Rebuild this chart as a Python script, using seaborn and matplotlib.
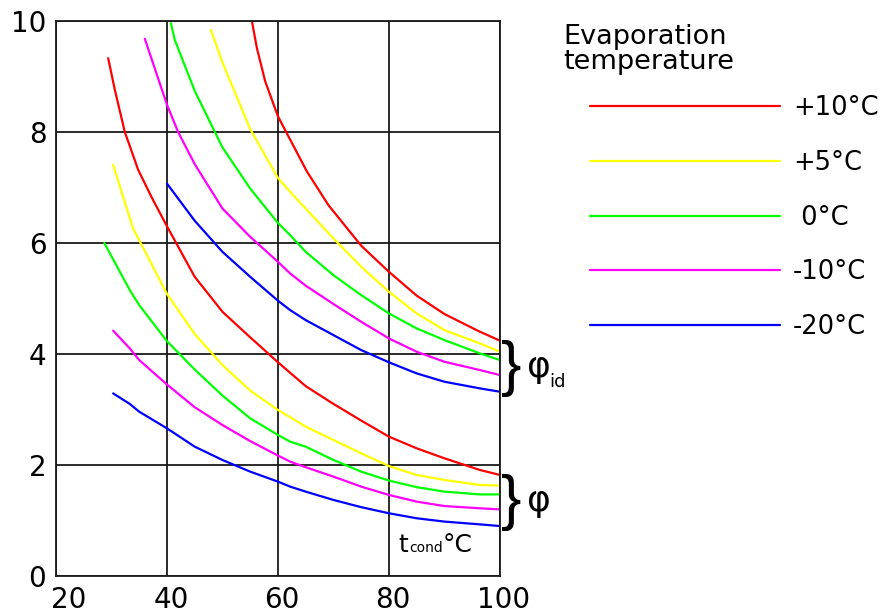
import pandas as pd
import numpy as np
import seaborn as sns
import matplotlib.pyplot as plt
from matplotlib.transforms import ScaledTranslation

# evaporation temperatures and their colours
evap_labels = ['+10°C', '+5°C', ' 0°C', '-10°C', '-20°C']
evap_colors = ['#ff0000', '#ffff00', '#00ff00', '#ff00ff', '#0000ff']

# ideal coefficient (phi_id) vs condensing temperature
t_id_p10 = [55.3, 56.2, 57.7, 60, 65.2, 69.1, 75, 80, 85, 90, 96.4, 100]
phi_id_p10 = [10.0, 9.51, 8.91, 8.28, 7.29, 6.68, 5.95, 5.48, 5.05, 4.72, 4.40, 4.24]
t_id_p5 = [47.9, 50, 55, 60, 62.2, 65, 70, 75, 80, 85, 90, 96.4, 100]
phi_id_p5 = [9.84, 9.25, 8.05, 7.17, 6.92, 6.62, 6.08, 5.57, 5.12, 4.73, 4.43, 4.19, 4.04]
t_id_0 = [40.7, 41.4, 45, 50, 55, 60, 62.2, 65, 70, 75, 80, 85, 90, 96.4, 100]
phi_id_0 = [9.96, 9.66, 8.74, 7.72, 6.98, 6.36, 6.14, 5.84, 5.42, 5.06, 4.73, 4.46, 4.25, 4.01, 3.89]
t_id_m10 = [36.0, 40, 42.0, 45, 50, 55, 60, 62.2, 65, 70, 75, 80, 85, 90, 96.4, 100]
phi_id_m10 = [9.68, 8.49, 8.0, 7.42, 6.62, 6.11, 5.66, 5.45, 5.23, 4.90, 4.58, 4.28, 4.04, 3.86, 3.71, 3.62]
t_id_m20 = [40, 45, 50, 55, 60, 62.2, 65, 70, 75, 80, 85, 90, 96.4, 100]
phi_id_m20 = [7.07, 6.40, 5.84, 5.39, 4.96, 4.79, 4.61, 4.34, 4.07, 3.85, 3.65, 3.50, 3.38, 3.32]

# real coefficient (phi) vs condensing temperature
t_p10 = [29.4, 30.6, 32.4, 34.8, 37.2, 40, 45, 50, 55, 60, 65, 70, 75, 80, 85, 90, 96.4, 100]
phi_p10 = [9.33, 8.76, 8.0, 7.32, 6.83, 6.30, 5.39, 4.76, 4.30, 3.85, 3.42, 3.10, 2.80, 2.51, 2.30, 2.12, 1.91, 1.82]
t_p5 = [30.3, 32.1, 33.9, 35, 40, 45, 50, 55, 60, 62.2, 65, 70, 75, 80, 85, 90, 96.4, 100]
phi_p5 = [7.41, 6.83, 6.26, 6.05, 5.08, 4.36, 3.80, 3.34, 2.99, 2.86, 2.69, 2.45, 2.21, 1.98, 1.82, 1.73, 1.64, 1.63]
t_0 = [28.7, 33.3, 35, 40, 45, 50, 55, 60, 62.2, 65, 70, 75, 80, 85, 90, 96.4, 100]
phi_0 = [6.0, 5.15, 4.88, 4.23, 3.72, 3.25, 2.84, 2.54, 2.42, 2.33, 2.09, 1.88, 1.72, 1.60, 1.52, 1.47, 1.47]
t_m10 = [30.3, 33.3, 35, 40, 45, 50, 55, 60, 62.2, 65, 70, 75, 80, 85, 90, 96.4, 100]
phi_m10 = [4.42, 4.10, 3.89, 3.45, 3.04, 2.72, 2.43, 2.17, 2.06, 1.96, 1.79, 1.61, 1.46, 1.34, 1.26, 1.22, 1.20]
t_m20 = [30.3, 33.3, 35, 40, 45, 50, 55, 60, 62.2, 65, 70, 75, 80, 85, 90, 96.4, 100]
phi_m20 = [3.29, 3.10, 2.96, 2.66, 2.33, 2.09, 1.88, 1.70, 1.61, 1.52, 1.37, 1.24, 1.13, 1.04, 0.98, 0.93, 0.90]

x_ticks = [20, 40, 60, 80, 100]
y_ticks = [0, 2, 4, 6, 8, 10]

curves = [
    ('id', evap_labels[0], t_id_p10, phi_id_p10),
    ('id', evap_labels[1], t_id_p5, phi_id_p5),
    ('id', evap_labels[2], t_id_0, phi_id_0),
    ('id', evap_labels[3], t_id_m10, phi_id_m10),
    ('id', evap_labels[4], t_id_m20, phi_id_m20),
    ('real', evap_labels[0], t_p10, phi_p10),
    ('real', evap_labels[1], t_p5, phi_p5),
    ('real', evap_labels[2], t_0, phi_0),
    ('real', evap_labels[3], t_m10, phi_m10),
    ('real', evap_labels[4], t_m20, phi_m20),
]
df = pd.concat([
    pd.DataFrame({'family': fam, 'evap': ev, 'tcond': t, 'phi': p})
    for fam, ev, t, p in curves
], ignore_index=True)

sns.set_theme(style="whitegrid", rc={
    "grid.color": "#1a1a1a", "grid.linewidth": 1.3,
    "axes.edgecolor": "#1a1a1a", "axes.linewidth": 1.3,
    "text.color": "black", "xtick.color": "black", "ytick.color": "black",
})
plt.rcParams['font.family'] = ['DejaVu Sans']

fig = plt.figure(figsize=(8.8, 6.16), dpi=100)
ax = fig.add_axes([56 / 880, 40 / 616, 444 / 880, 555 / 616])

sns.lineplot(data=df, x='tcond', y='phi', hue='evap', units='family',
             estimator=None, sort=False, hue_order=evap_labels,
             palette=dict(zip(evap_labels, evap_colors)), linewidth=1.6, ax=ax)

ax.set_xlim(20, 100)
ax.set_ylim(0, 10)
ax.set_xticks(x_ticks, labels=[str(v) for v in x_ticks])
ax.set_yticks(y_ticks, labels=[str(v) for v in y_ticks])
ax.tick_params(axis='both', length=0, labelsize=20, pad=7, labelcolor='black')
ax.set_xlabel('')
ax.set_ylabel('')
for lab in ax.get_xticklabels():
    dx = 13 if lab.get_text() == '20' else 4
    lab.set_transform(lab.get_transform() + ScaledTranslation(dx / 100, 0, fig.dpi_scale_trans))

# legend on the right
sns.move_legend(ax, loc='upper left', bbox_to_anchor=(590 / 880, 1 - 95 / 616),
                bbox_transform=fig.transFigure, frameon=False, title=None,
                fontsize=18.5, handlelength=7.4, handletextpad=0.5,
                labelspacing=1.12, borderpad=0, borderaxespad=0)
for line in ax.get_legend().get_lines():
    line.set_linewidth(1.6)

fig.text(563 / 880, 1 - 24 / 616, 'Evaporation\ntemperature', fontsize=19.5,
         va='top', ha='left', linespacing=0.95, color='black')

# braces and labels at the right end
brace_font = ['Liberation Sans', 'DejaVu Sans']
ax.text(100.1, 3.74, '}', fontsize=44, va='center', ha='left', clip_on=False,
        family=brace_font)
ax.text(100.1, 1.33, '}', fontsize=44, va='center', ha='left', clip_on=False,
        family=brace_font)
ax.text(104.8, 3.77, 'φ', fontsize=26, va='center', ha='left', clip_on=False)
ax.text(108.9, 3.40, 'id', fontsize=13, va='baseline', ha='left', clip_on=False)
ax.text(104.8, 1.35, 'φ', fontsize=26, va='center', ha='left', clip_on=False)

# axis caption inside the plot
ax.text(81.6, 0.43, 't', fontsize=18, va='baseline', ha='left')
ax.text(83.6, 0.43, 'cond', fontsize=10, va='baseline', ha='left')
ax.text(89.7, 0.43, '°C', fontsize=18, va='baseline', ha='left')

fig.savefig('out.png', dpi=100)
